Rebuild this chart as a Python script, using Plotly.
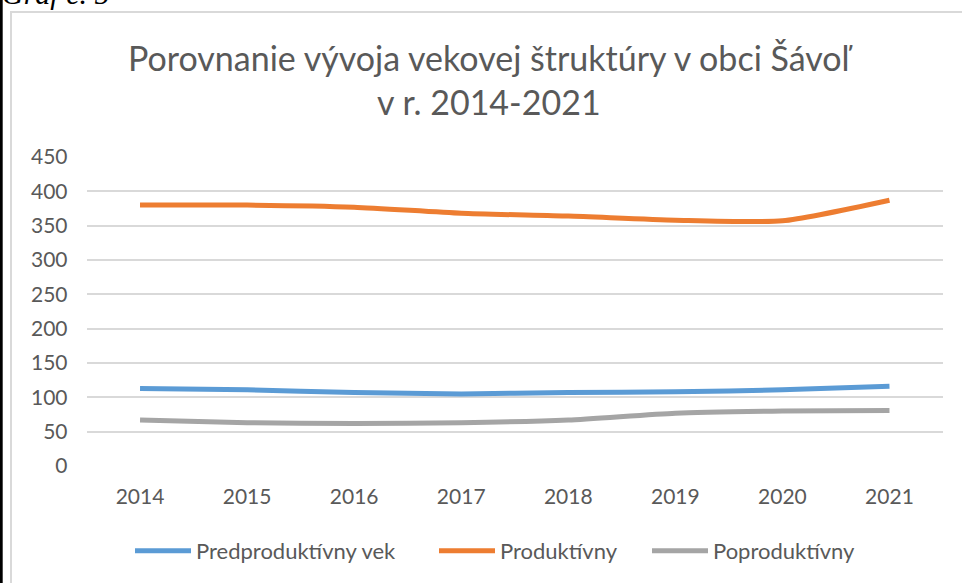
import plotly.graph_objects as go

years = ["2014", "2015", "2016", "2017", "2018", "2019", "2020", "2021"]
predproduktivny = [113, 111, 107, 105, 107, 108, 111, 116]
produktivny = [380, 380, 377, 368, 364, 358, 357, 387]
poproduktivny = [67, 63, 62, 63, 67, 77, 80, 81]
y_ticks = [0, 50, 100, 150, 200, 250, 300, 350, 400, 450]

W, H = 962, 583
FONT = "Lato"
TXT = "#595959"

def px(x):
    return x / W

def py(y):
    return 1 - y / H

fig = go.Figure()
series = [
    ("Predproduktívny vek", predproduktivny, "#5B9BD5", "legend", 130),
    ("Produktívny", produktivny, "#ED7D31", "legend2", 434),
    ("Poproduktívny", poproduktivny, "#A5A5A5", "legend3", 647),
]
legends = {}
for name, vals, col, lg, lx in series:
    fig.add_trace(go.Scatter(
        x=years, y=vals, name=name, mode="lines", legend=lg,
        line=dict(color=col, width=5, shape="spline", smoothing=0.6),
    ))
    legends[lg] = dict(
        orientation="h", x=px(lx), y=py(551), xanchor="left", yanchor="middle",
        font=dict(family=FONT, size=22, color=TXT),
        itemwidth=56, bgcolor="rgba(0,0,0,0)",
    )

fig.update_layout(
    width=W, height=H,
    margin=dict(l=0, r=0, t=0, b=0, autoexpand=False),
    paper_bgcolor="white", plot_bgcolor="white",
    showlegend=True,
    xaxis=dict(
        domain=[px(86.5), px(943)],
        type="category", range=[-0.5, 7.5],
        showgrid=False, zeroline=False, showline=False,
        tickfont=dict(family=FONT, size=21, color=TXT),
        ticklabelstandoff=16,
    ),
    yaxis=dict(
        domain=[py(466), py(157)],
        range=[0, 450], tickvals=y_ticks, ticktext=[str(v) for v in y_ticks],
        showgrid=True, gridcolor="#D9D9D9", gridwidth=1.5,
        zeroline=False, showline=False,
        tickfont=dict(family=FONT, size=21, color=TXT),
        ticklabelstandoff=18,
    ),
    annotations=[
        dict(text="Porovnanie vývoja vekovej štruktúry v obci Šávoľ<br>v r. 2014-2021",
             x=px(491), y=py(80), xref="paper", yref="paper",
             xanchor="center", yanchor="middle", showarrow=False,
             font=dict(family=FONT, size=34, color=TXT)),
        dict(text="<i>Graf č. 5</i>", x=0, y=py(12), xref="paper", yref="paper",
             xanchor="left", yanchor="bottom", showarrow=False,
             font=dict(family="Liberation Serif", size=30, color="black")),
    ],
    shapes=[
        dict(type="rect", xref="paper", yref="paper",
             x0=px(11), x1=1.05, y0=-0.05, y1=py(12),
             line=dict(color="#D9D9D9", width=2), fillcolor="rgba(0,0,0,0)", layer="below"),
        dict(type="rect", xref="paper", yref="paper",
             x0=0, x1=px(2.7), y0=-0.05, y1=1.05,
             line=dict(width=0), fillcolor="black"),
    ],
    **legends,
)

fig.write_html(
    "out.html",
    config={"displayModeBar": False},
    post_script="document.body.style.margin='0px';document.body.style.overflow='hidden';",
)
